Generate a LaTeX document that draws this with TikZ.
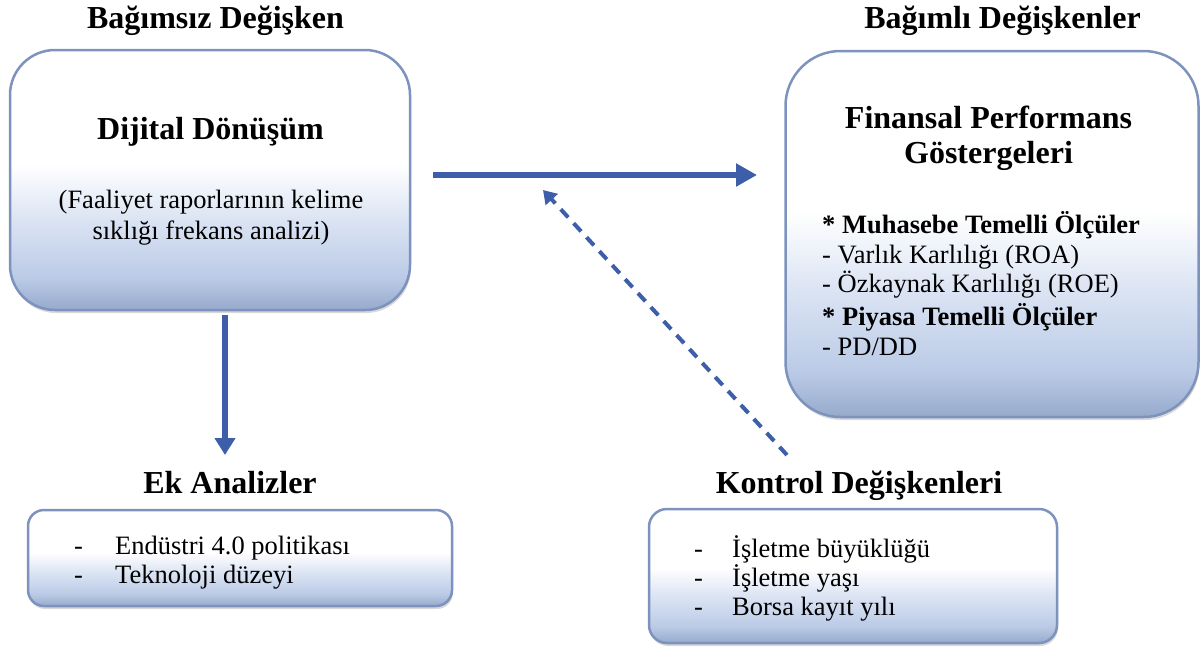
\documentclass[tikz,border=0pt]{standalone}
\usepackage{fontspec}
\setmainfont{Liberation Serif}
\usetikzlibrary{arrows.meta,shadows}
\definecolor{bDark}{RGB}{150,170,204}
\definecolor{bMid}{RGB}{186,202,230}
\definecolor{bLight}{RGB}{218,227,243}
\definecolor{edge}{RGB}{125,147,190}
\definecolor{arr}{RGB}{61,94,168}
\pgfdeclareverticalshading{boxsh}{100bp}{color(0bp)=(bDark); color(25bp)=(bDark); color(31bp)=(bMid); color(42bp)=(bLight); color(53bp)=(white); color(100bp)=(white)}
\tikzset{
  boxstyle/.style={draw=edge, line width=2.5pt, shading=boxsh, inner sep=0pt,
    drop shadow={shadow xshift=1pt, shadow yshift=-3pt, opacity=0.25, fill=black!60}},
  titletext/.style={font=\fontsize{32}{36}\selectfont\bfseries, inner sep=0pt, anchor=base},
  headtext/.style={font=\fontsize{32}{36}\selectfont\bfseries, inner sep=0pt, anchor=base},
  bodytext/.style={font=\fontsize{26.5}{30}\selectfont, inner sep=0pt, anchor=base},
  listtext/.style={font=\fontsize{26.5}{30}\selectfont, inner sep=0pt, anchor=base west},
  mainarrow/.style={draw=arr, line width=6.5pt},
  dasharrow/.style={draw=arr, line width=4pt, dash pattern=on 11pt off 8pt, -{Triangle[length=13pt,width=16pt]}},
}
\begin{document}
\begin{tikzpicture}[x=1pt,y=-1pt]
\useasboundingbox (0,0) rectangle (1202,648);
% boxes
\node[boxstyle, rounded corners=45pt, minimum width=400pt, minimum height=260pt] (dd) at (210,180) {};
\node[boxstyle, rounded corners=55pt, minimum width=413pt, minimum height=366pt] (fp) at (992,234) {};
\node[boxstyle, rounded corners=16pt, minimum width=424pt, minimum height=96pt] (ek) at (240,558) {};
\node[boxstyle, rounded corners=18pt, minimum width=408pt, minimum height=134pt] (kd) at (853,576) {};
% titles
\node[titletext] (t1) at (215.5,28) {Bağımsız Değişken};
\node[titletext] (t2) at (1002.5,28) {Bağımlı Değişkenler};
\node[titletext] (t3) at (230,493) {Ek Analizler};
\node[titletext] (t4) at (859,493) {Kontrol Değişkenleri};
% box 1 text
\node[headtext] (ddh) at (210.5,139) {Dijital Dönüşüm};
\node[bodytext] (dds1) at (211,208) {(Faaliyet raporlarının kelime};
\node[bodytext] (dds2) at (211,239) {sıklığı frekans analizi)};
% box 2 text
\node[headtext] (fph1) at (988.5,128) {Finansal Performans};
\node[headtext] (fph2) at (988.5,163) {Göstergeleri};
\node[listtext] (fl1) at (822,233) {\textbf{* Muhasebe Temelli Ölçüler}};
\node[listtext] (fl2) at (822,263) {- Varlık Karlılığı (ROA)};
\node[listtext] (fl3) at (822,292) {- Özkaynak Karlılığı (ROE)};
\node[listtext] (fl4) at (822,325) {\textbf{* Piyasa Temelli Ölçüler}};
\node[listtext] (fl5) at (822,355) {- PD/DD};
% box 3 text
\node[listtext] (e1d) at (74,554) {-};
\node[listtext] (e1) at (115,554) {Endüstri 4.0 politikası};
\node[listtext] (e2d) at (74,583) {-};
\node[listtext] (e2) at (115,583) {Teknoloji düzeyi};
% box 4 text
\node[listtext] (k1d) at (694,557) {-};
\node[listtext] (k1) at (732,557) {İşletme büyüklüğü};
\node[listtext] (k2d) at (694,586) {-};
\node[listtext] (k2) at (732,586) {İşletme yaşı};
\node[listtext] (k3d) at (694,615) {-};
\node[listtext] (k3) at (732,615) {Borsa kayıt yılı};
% arrows
\coordinate (hs) at (433,175);
\coordinate (he) at (757,175);
\coordinate (vs) at (225,315);
\coordinate (ve) at (225,455);
\coordinate (ds) at (787,455);
\coordinate (de) at (543,190);
\draw[mainarrow, -{Triangle[length=21pt,width=22pt]}] (hs) -- (he);
\draw[mainarrow, -{Triangle[length=17pt,width=20pt]}] (vs) -- (ve);
\draw[dasharrow] (ds) -- (de);
\end{tikzpicture}
\end{document}
